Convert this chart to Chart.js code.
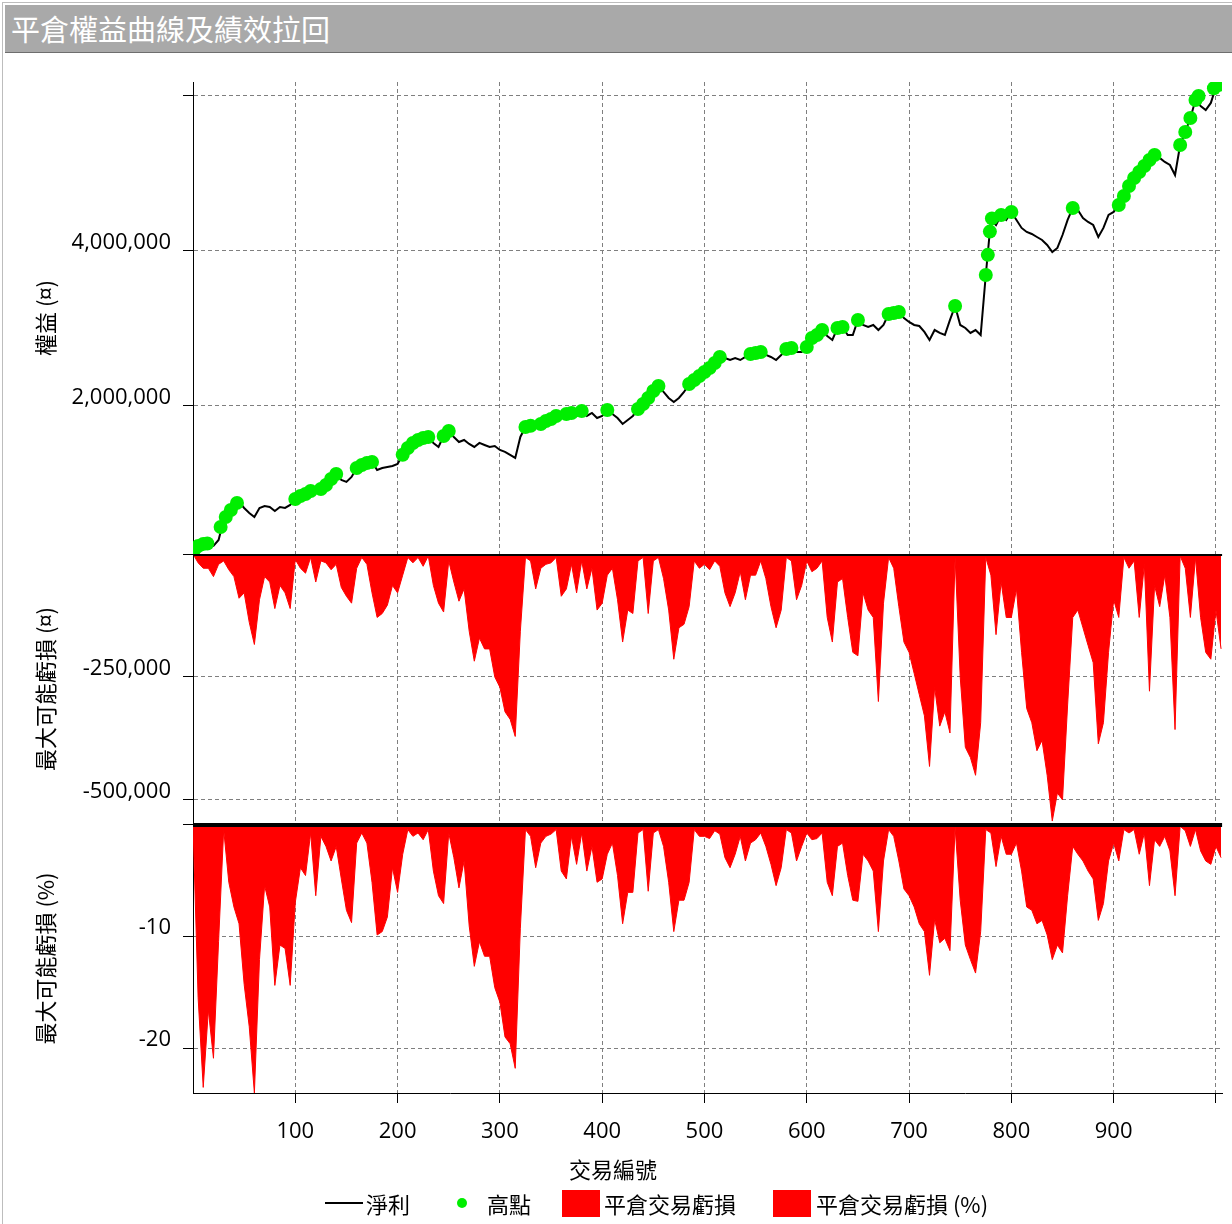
<!DOCTYPE html>
<html>
<head>
<meta charset="utf-8">
<script src="https://cdn.jsdelivr.net/npm/chart.js@4.4.1/dist/chart.umd.min.js"></script>
<style>
  body { margin: 0; background: #fff; }
  #frame { position: absolute; left: 2px; top: 2px; width: 1229px; height: 1221px;
           border-left: 1px solid #bdbdbd; border-top: 1px solid #bdbdbd; }
  #title { position: absolute; left: 2px; top: 2px; right: 0; height: 47px;
           background: #a9a9a9; border-bottom: 1px solid #6e6e6e; color: #fff;
           font: 29px "Noto Sans CJK TC"; line-height: 47px; padding-left: 6px; }
  #wrap { position: absolute; left: 3px; top: 54px; width: 1229px; height: 1170px; }
  .lg { position: absolute; font: 22px "Noto Sans CJK TC"; line-height: 30px; top: 1188px; color: #000; white-space: nowrap; }
  .sw { position: absolute; }
</style>
</head>
<body>
<div id="frame"><div id="title">平倉權益曲線及績效拉回</div></div>
<div id="wrap"><canvas id="chart"></canvas></div>

<div class="lg" style="left:569px;top:1153px">交易編號</div>
<div class="sw" style="left:325px;top:1202px;width:38px;height:2px;background:#000"></div>
<div class="lg" style="left:366px">淨利</div>
<div class="sw" style="left:457px;top:1198px;width:10px;height:10px;border-radius:50%;background:#00ee00"></div>
<div class="lg" style="left:487px">高點</div>
<div class="sw" style="left:562px;top:1190px;width:38px;height:27px;background:#ff0000"></div>
<div class="lg" style="left:604px">平倉交易虧損</div>
<div class="sw" style="left:773px;top:1190px;width:38px;height:27px;background:#ff0000"></div>
<div class="lg" style="left:816px">平倉交易虧損 (%)</div>

<script>
// one sample every 5 trades, trade 0 .. 1005
const step = 5;

// 淨利 (thousands)
const equityK = [
  116, 168, 207, 181, 194, 271, 530, 633, 684, 762,
  684, 620, 568, 684, 710, 697, 645, 697, 684, 723,
  800, 839, 865, 903, 878, 929, 981, 1058, 1123, 1045,
  1020, 1084, 1200, 1239, 1265, 1278, 1174, 1200, 1213, 1226,
  1252, 1370, 1458, 1523, 1561, 1587, 1600, 1523, 1471, 1613,
  1677, 1600, 1535, 1561, 1510, 1471, 1523, 1497, 1471, 1484,
  1432, 1407, 1368, 1329, 1600, 1729, 1716, 1729, 1768, 1806,
  1832, 1871, 1858, 1897, 1897, 1871, 1935, 1871, 1910, 1845,
  1871, 1948, 1897, 1845, 1768, 1819, 1871, 1961, 2026, 2103,
  2194, 2258, 2181, 2103, 2052, 2103, 2181, 2284, 2335, 2387,
  2439, 2490, 2555, 2632, 2619, 2593, 2619, 2593, 2632, 2671,
  2684, 2697, 2658, 2632, 2593, 2658, 2735, 2735, 2697, 2697,
  2761, 2877, 2916, 2980, 2903, 2851, 3006, 3019, 2916, 2916,
  3110, 3045, 3019, 3045, 2980, 3045, 3187, 3200, 3213, 3135,
  3084, 3045, 3032, 2955, 2851, 2980, 2942, 2916, 3110, 3290,
  3045, 3006, 2942, 2980, 2916, 3690, 4400, 4335, 4464, 4400,
  4503, 4400, 4297, 4245, 4219, 4180, 4142, 4077, 3987, 4039,
  4206, 4400, 4554, 4529, 4425, 4374, 4335, 4180, 4297, 4464,
  4503, 4593, 4709, 4838, 4941, 5019, 5096, 5174, 5238, 5200,
  5148, 5109, 4980, 5367, 5535, 5716, 5948, 5871, 5819, 5910,
  6115, 6076
];

// 高點: trade number and equity (thousands)
const highX = [1, 5, 10, 14, 27, 32, 37, 43, 100, 105, 110, 115, 125, 130, 135, 140,
  160, 165, 170, 175, 205, 210, 215, 220, 225, 230, 245, 250,
  325, 330, 340, 345, 350, 355, 365, 370, 380, 405, 435, 440, 445, 450, 455,
  485, 490, 495, 500, 505, 510, 515, 545, 550, 555, 580, 585, 600, 605, 610, 615,
  630, 635, 650, 680, 685, 690, 745, 775, 777, 779, 781, 790, 800, 860,
  905, 910, 915, 920, 925, 930, 935, 940, 965, 970, 975, 980, 983, 998, 1002, 1005];
const highK = [142, 194, 220, 225, 439, 568, 658, 749, 800, 839, 865, 903, 929, 981, 1058, 1123,
  1200, 1239, 1265, 1278, 1370, 1458, 1523, 1561, 1587, 1600, 1613, 1677,
  1729, 1745, 1768, 1806, 1832, 1871, 1897, 1910, 1935, 1948, 1961, 2026, 2103, 2194, 2258,
  2284, 2335, 2387, 2439, 2490, 2555, 2632, 2671, 2684, 2697, 2735, 2748, 2761, 2877, 2916, 2980,
  3006, 3019, 3110, 3187, 3200, 3213, 3290, 3690, 3950, 4250, 4420, 4464, 4503, 4554,
  4593, 4709, 4838, 4941, 5019, 5096, 5174, 5238, 5367, 5535, 5716, 5948, 6000, 6100, 6140, 6150];

// 平倉交易虧損 (thousands)
const ddK = [
  0, -18, -29, -29, -46, -21, -14, -32, -46, -90,
  -79, -139, -184, -93, -46, -57, -111, -64, -79, -111,
  -11, -29, -39, -7, -57, -14, -18, -32, -21, -68,
  -86, -100, -29, -7, -21, -79, -129, -121, -104, -64,
  -79, -43, -7, -18, -7, -25, -4, -64, -100, -118,
  -14, -57, -96, -71, -157, -218, -171, -193, -193, -250,
  -271, -321, -336, -371, -157, -7, -14, -71, -29, -21,
  -18, -7, -86, -71, -21, -79, -14, -71, -29, -114,
  -100, -43, -29, -93, -179, -114, -121, -14, -7, -121,
  -14, -7, -50, -114, -214, -150, -143, -107, -14, -29,
  -21, -32, -14, -25, -79, -107, -79, -36, -93, -43,
  -43, -14, -50, -107, -150, -114, -7, -14, -93, -64,
  -14, -36, -29, -14, -129, -179, -57, -50, -129, -200,
  -207, -79, -114, -129, -300, -100, -7, -29, -107, -179,
  -200, -243, -286, -329, -432, -271, -350, -321, -364, -7,
  -250, -393, -414, -450, -343, -7, -43, -164, -57, -129,
  -129, -71, -200, -314, -343, -400, -379, -450, -543, -486,
  -500, -307, -129, -114, -150, -186, -221, -386, -343, -200,
  -93, -129, -7, -29, -14, -129, -21, -279, -64, -107,
  -43, -129, -357, -4, -29, -129, -7, -129, -200, -214,
  -114, -193
];

// 平倉交易虧損 (%)
const ddPct = [
  0, -15.5, -23.5, -16.6, -20.9, -10.5, -0.5, -5.2, -7.4, -8.9,
  -14.3, -18.1, -24.0, -12.1, -5.5, -7.4, -14.4, -10.8, -11.1, -14.4,
  -7.0, -3.9, -4.6, -0.8, -6.4, -1.1, -2.0, -3.3, -2.0, -4.9,
  -7.7, -8.8, -1.7, -0.8, -1.7, -5.2, -9.9, -9.6, -8.3, -3.9,
  -6.1, -2.7, -0.5, -1.1, -0.8, -1.4, -0.5, -4.2, -6.4, -7.1,
  -0.8, -3.0, -5.7, -3.3, -9.1, -12.7, -10.5, -11.8, -11.8, -14.6,
  -15.9, -19.0, -19.6, -21.8, -9.3, -0.5, -1.1, -3.9, -1.7, -1.1,
  -0.9, -0.5, -4.2, -4.9, -1.1, -3.6, -0.8, -4.2, -2.0, -5.2,
  -4.9, -2.7, -1.7, -4.6, -8.9, -6.1, -6.1, -0.8, -0.5, -6.0,
  -0.8, -0.5, -2.0, -5.2, -9.6, -6.8, -6.8, -5.2, -0.5, -1.1,
  -1.1, -1.3, -0.6, -0.9, -3.0, -3.9, -2.7, -1.1, -3.3, -1.7,
  -1.4, -0.8, -2.0, -3.6, -5.5, -3.9, -0.5, -0.8, -3.3, -2.0,
  -0.8, -1.4, -1.3, -0.8, -5.2, -6.4, -2.0, -1.7, -4.6, -6.8,
  -6.9, -2.7, -3.3, -4.2, -9.6, -3.3, -0.5, -1.1, -3.3, -5.8,
  -6.4, -7.4, -8.9, -9.6, -13.5, -8.5, -10.6, -10.2, -11.3, -0.3,
  -6.8, -10.8, -12.1, -13.3, -9.6, -0.5, -0.8, -3.8, -1.1, -2.7,
  -2.7, -1.7, -4.2, -7.4, -7.7, -8.9, -8.6, -9.9, -12.1, -10.8,
  -11.5, -6.4, -2.0, -2.7, -3.3, -4.2, -4.9, -8.6, -7.1, -3.3,
  -1.7, -3.3, -0.5, -0.8, -0.5, -2.7, -0.8, -5.5, -1.4, -2.0,
  -1.1, -2.4, -6.4, -0.2, -0.6, -2.0, -0.5, -2.4, -3.3, -3.6,
  -2.0, -3.0
];

// axis ticks (blank label where the reference shows none)
const xTicks = [0, 100, 200, 300, 400, 500, 600, 700, 800, 900, 1000];
const xHidden = [0, 1000];
const y1Ticks = [2000000, 4000000, 6000000];
const y2Ticks = [0, -250000, -500000];
const y3Ticks = [0, -10, -20];

const tickFont = { family: 'Open Sans', size: 22 };
const cjkFont = { family: 'Noto Sans CJK TC', size: 22 };
const fmt = v => v.toLocaleString('en-US');

function yAxis(title, weight, min, max, tickValues, labelFn) {
  return {
    type: 'linear',
    position: 'left',
    stack: 'panels',
    stackWeight: weight,
    min: min,
    max: max,
    afterFit(s) { s.width = 190; },
    afterBuildTicks(s) { s.ticks = tickValues.map(v => ({ value: v })); },
    border: { display: true, color: '#000', width: 1, dash: [4, 3] },
    grid: { color: '#7f7f7f', tickLength: 10, tickColor: '#000', tickBorderDash: [] },
    ticks: { font: tickFont, color: '#000', padding: 12, labelOffset: -8, callback: labelFn },
    title: { display: true, text: title, font: cjkFont, color: '#000', padding: { top: 29, bottom: 0 } }
  };
}

const panelLines = {
  id: 'panelLines',
  afterDatasetsDraw(chart) {
    const { ctx, chartArea, scales } = chart;
    ctx.save();
    ctx.strokeStyle = '#000';
    ctx.lineWidth = 2;
    ctx.beginPath();
    ctx.moveTo(chartArea.left, scales.y2.top + 1);
    ctx.lineTo(chartArea.right, scales.y2.top + 1);
    ctx.stroke();
    ctx.lineWidth = 4;
    ctx.beginPath();
    ctx.moveTo(chartArea.left, scales.y3.top + 1);
    ctx.lineTo(chartArea.right, scales.y3.top + 1);
    ctx.stroke();
    ctx.restore();
  }
};

const equityPts = equityK.map((v, i) => ({ x: i * step, y: v * 1000 }));
const highPts = highX.map((x, i) => ({ x: x, y: highK[i] * 1000 }));
const ddPts = ddK.map((v, i) => ({ x: i * step, y: v * 1000 }));
const pctPts = ddPct.map((v, i) => ({ x: i * step, y: v }));

new Chart(document.getElementById('chart'), {
  type: 'line',
  data: {
    datasets: [
      { label: '高點', type: 'scatter', data: highPts, yAxisID: 'y1', order: 0,
        pointRadius: 7, pointBackgroundColor: '#00ee00', pointBorderWidth: 0 },
      { label: '淨利', data: equityPts, yAxisID: 'y1', order: 1,
        borderColor: '#000', borderWidth: 2, pointRadius: 0, tension: 0 },
      { label: '平倉交易虧損', data: ddPts, yAxisID: 'y2', order: 2,
        borderColor: '#ff0000', backgroundColor: '#ff0000', borderWidth: 1, pointRadius: 0, fill: 'origin' },
      { label: '平倉交易虧損 (%)', data: pctPts, yAxisID: 'y3', order: 3,
        borderColor: '#ff0000', backgroundColor: '#ff0000', borderWidth: 1, pointRadius: 0, fill: 'origin' }
    ]
  },
  options: {
    responsive: true,
    maintainAspectRatio: false,
    animation: false,
    layout: { padding: { top: 28, right: 8, bottom: 39, left: 0 } },
    plugins: { legend: { display: false }, tooltip: { enabled: false } },
    scales: {
      x: {
        type: 'linear',
        min: 0,
        max: 1006,
        afterFit(s) { s.height = 92; },
        afterBuildTicks(s) { s.ticks = xTicks.map(v => ({ value: v })); },
        border: { display: true, color: '#000', width: 1, dash: [4, 3] },
        grid: {
          color: c => c.tick && c.tick.value === 0 ? 'rgba(0,0,0,0)' : '#7f7f7f',
          tickColor: c => c.tick && c.tick.value === 0 ? 'rgba(0,0,0,0)' : '#000',
          tickLength: 10, tickBorderDash: []
        },
        ticks: {
          font: tickFont, color: '#000', padding: 16, maxRotation: 0, autoSkip: false,
          callback: v => xHidden.includes(v) ? '' : String(v)
        }
      },
      // stacked on the left: listed bottom panel first so the equity panel ends up on top
      y3: yAxis('最大可能虧損 (%)', 269, -24, 0, y3Ticks, v => v === 0 ? '' : String(v)),
      y2: yAxis('最大可能虧損 (¤)', 270, -549000, 0, y2Ticks, v => v === 0 ? '' : fmt(v)),
      y1: yAxis('權益 (¤)', 472, 90000, 6180000, y1Ticks, v => v === 6000000 ? '' : fmt(v))
    }
  },
  plugins: [panelLines]
});
</script>
</body>
</html>
